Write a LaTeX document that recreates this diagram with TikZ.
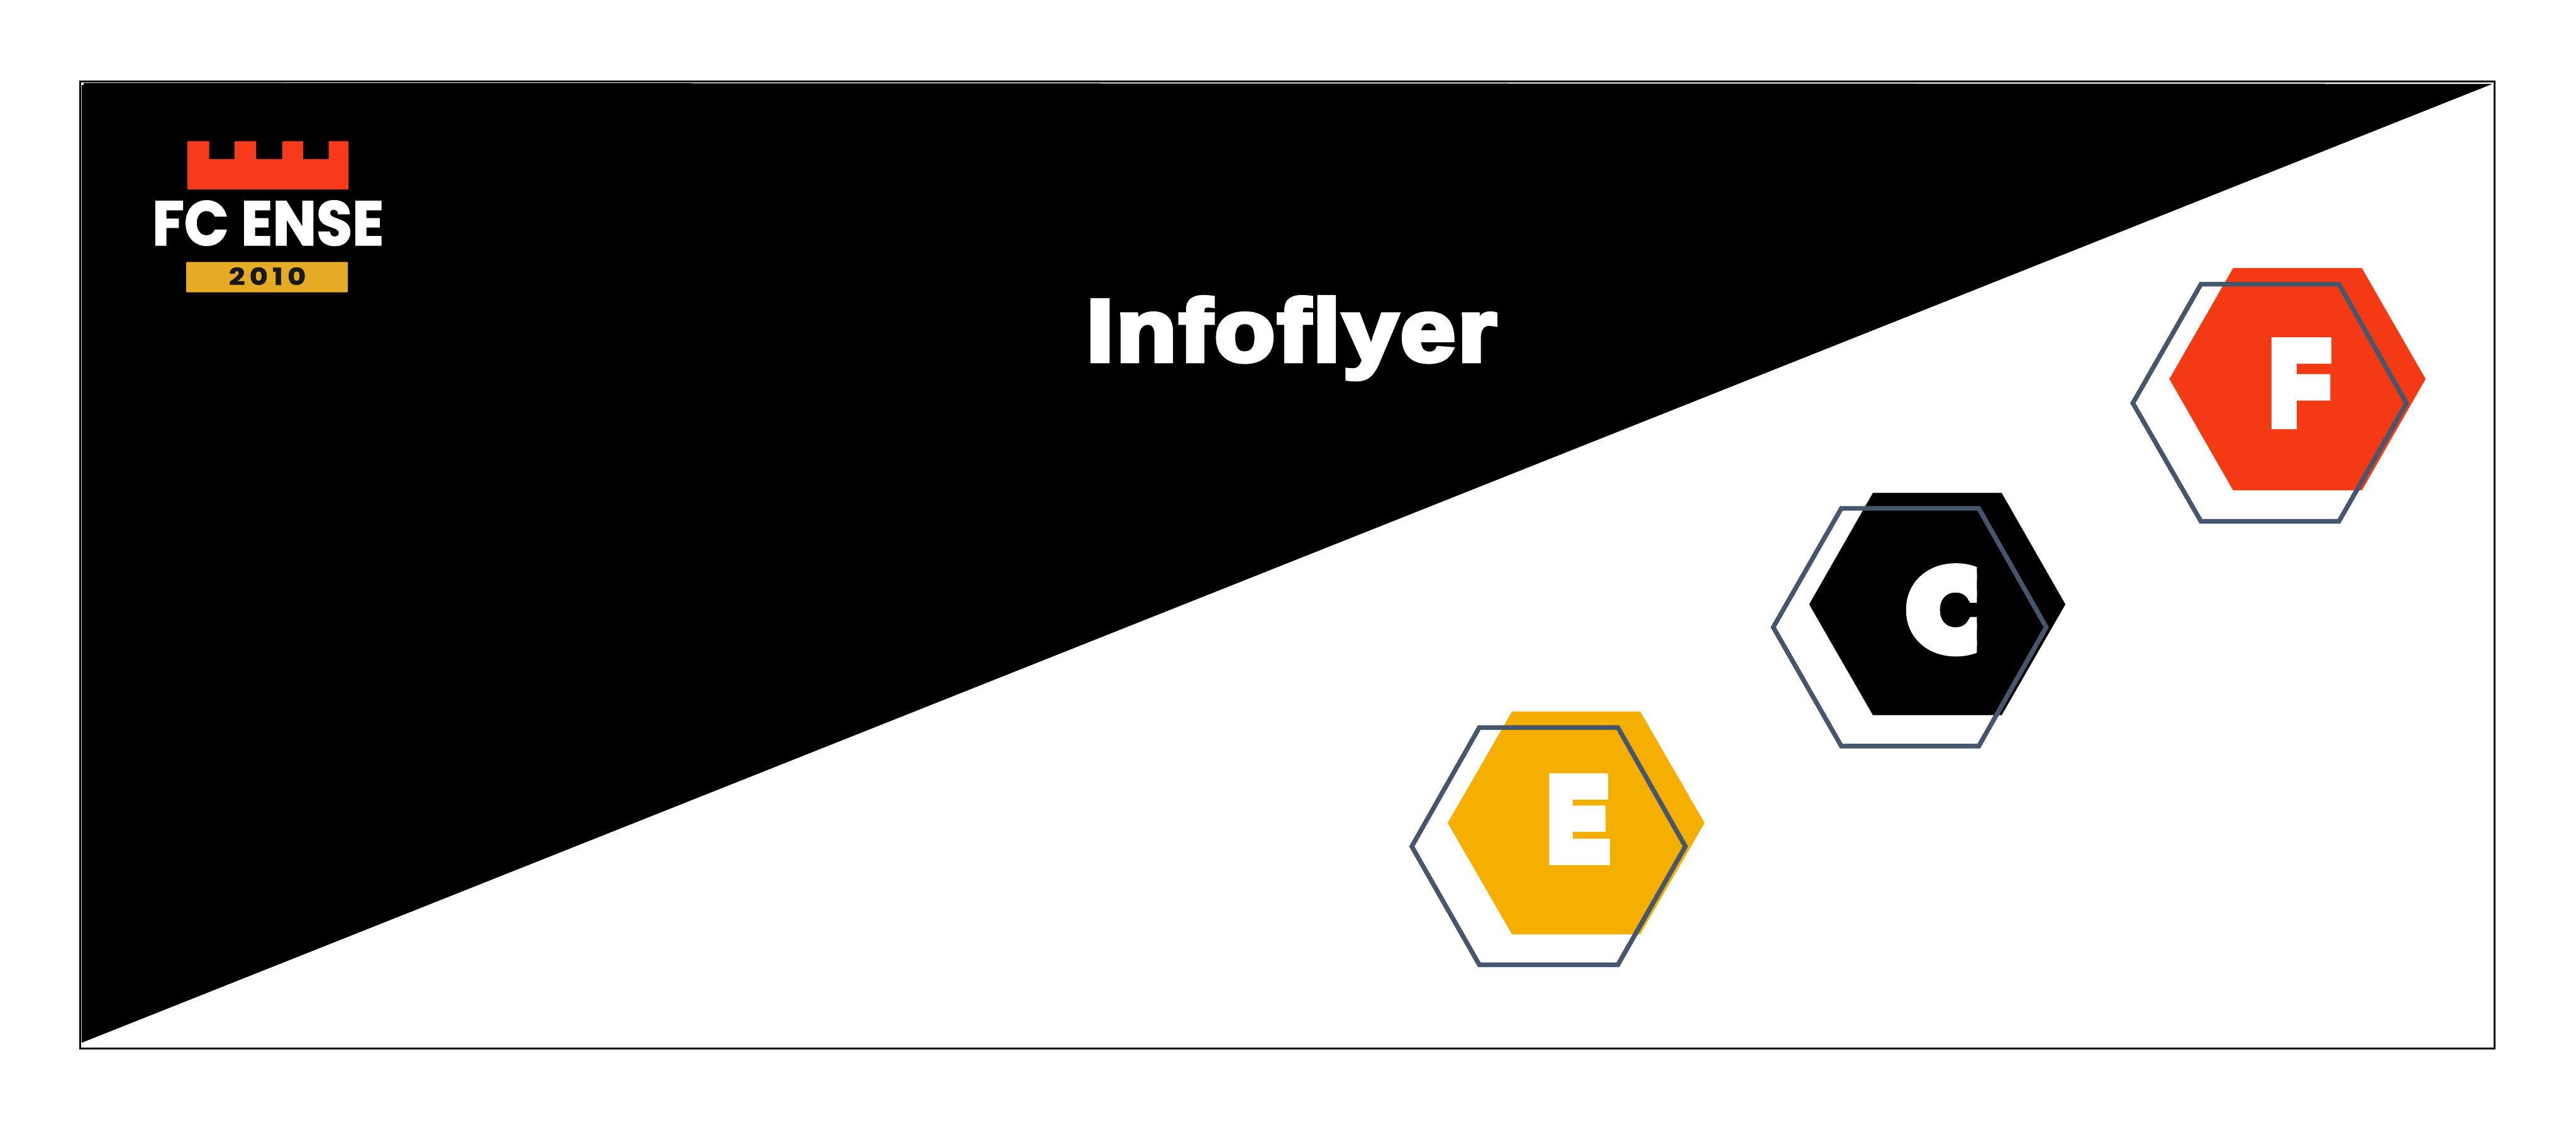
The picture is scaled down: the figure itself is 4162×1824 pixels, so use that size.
\documentclass[tikz,border=0pt]{standalone}
\usepackage{fontspec}
\setmainfont{Liberation Sans}
\newfontfamily\geo[BoldFeatures={FakeBold=1.8}]{Poppins}
\newfontfamily\geoC[BoldFeatures={FakeBold=10}]{Poppins}
\newfontfamily\titlefont[Ligatures=NoCommon,LetterSpace=2.5,BoldFeatures={FakeBold=5}]{Liberation Sans}
\newfontfamily\blockfont[BoldFeatures={FakeBold=12}]{Liberation Sans}
\definecolor{redF}{HTML}{F43A14}
\definecolor{crown}{HTML}{F7391C}
\definecolor{goldE}{HTML}{F5AF00}
\definecolor{goldbar}{HTML}{E5AB24}
\definecolor{slateH}{HTML}{46566C}
\tikzset{
  px/.style={x=0.01cm,y=-0.01cm},
  hexline/.style={draw=slateH,line width=0.075cm,line join=miter},
  label/.style={inner sep=0,outer sep=0,anchor=base west,text=white},
}
\newcommand{\fit}[3]{\resizebox{#1}{#2}{#3}}
\begin{document}
\begin{tikzpicture}[px]
\useasboundingbox (0,0) rectangle (4162,1824);
\fill[white] (0,0) rectangle (4162,1824);
% frame and diagonal
\draw[black,line width=0.03cm] (130,132) rectangle (4030,1693);
\fill[black] (132,134) -- (4027,135.5) -- (132,1684) -- cycle;
\fill[white] (132,134) rectangle (135,137);
% logo
\fill[crown] (303,228) -- (338,228) -- (338,257) -- (379,257) -- (379,228) -- (414,228) -- (414,257) -- (456,257) -- (456,228) -- (490,228) -- (490,257) -- (531,257) -- (531,228) -- (563,228) -- (563,306) -- (303,306) -- cycle;
\node[label] (logoname) at (246,396) {\fit{3.74cm}{0.72cm}{\geo\bfseries FC ENSE}};
\fill[goldbar,rounded corners=0.01cm] (301,423) rectangle (562,472);
\node[label,text=black!90] (logoyear) at (370,460) {\fit{1.24cm}{0.28cm}{\geo\bfseries 2\,0\,1\,0}};
% title
\node[label] (title) at (1755,583) {\fit{6.62cm}{1.03cm}{\titlefont\bfseries Infoflyer}};
% hexagon F
\fill[redF] (3608,433) -- (3816,433) -- (3919,612) -- (3816,792) -- (3608,792) -- (3505,612) -- cycle;
\node[label] (letterF) at (3669,682) {\fit{0.94cm}{1.26cm}{\blockfont\bfseries F}};
\draw[hexline] (3556,459) -- (3779,459) -- (3888,651) -- (3779,842) -- (3556,842) -- (3446,651) -- cycle;
% hexagon C
\fill[black] (3026,796) -- (3234,796) -- (3337,976) -- (3234,1155) -- (3026,1155) -- (2923,976) -- cycle;
\begin{scope}
\clip (3060,890) rectangle (3194,1080);
\node[label] (letterC) at (3083,1050) {\fit{1.52cm}{1.31cm}{\geoC\bfseries C}};
\end{scope}
\draw[hexline] (2975,821) -- (3197,821) -- (3306,1013) -- (3197,1205) -- (2975,1205) -- (2865,1013) -- cycle;
% hexagon E
\fill[goldE] (2443,1149) -- (2650,1149) -- (2754,1329) -- (2650,1509) -- (2443,1509) -- (2339,1329) -- cycle;
\node[label] (letterE) at (2502,1386) {\fit{0.96cm}{1.26cm}{\blockfont\bfseries E}};
\draw[hexline] (2390,1175) -- (2614,1175) -- (2723,1367) -- (2614,1558) -- (2390,1558) -- (2281,1367) -- cycle;
\end{tikzpicture}
\end{document}
